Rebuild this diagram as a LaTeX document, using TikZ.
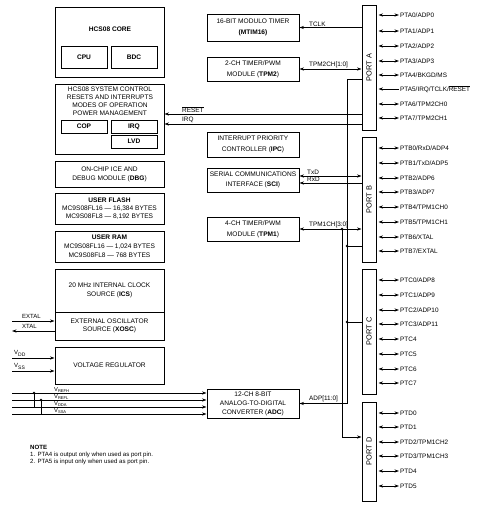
\documentclass[tikz,border=0pt]{standalone}
\usepackage{fontspec}
\setmainfont{Liberation Sans}
\usetikzlibrary{arrows.meta}
\newcommand\ovl[1]{$\overline{\mbox{#1}}$}
\newcommand\fs[2]{\fontsize{#1}{#2}\selectfont}
\begin{document}
\begin{tikzpicture}[x=1pt,y=-1pt,
  every node/.style={inner sep=0pt, font=\fs{6.6}{9}},
  blk/.style={draw, line width=1pt, align=center},
  lab/.style={anchor=west, font=\fs{6.4}{7}},
  pinlab/.style={anchor=west, inner sep=1pt, font=\fs{6.4}{7}},
  portlab/.style={rotate=90, font=\fs{7.4}{8}},
  wire/.style={line width=0.8pt},
  arr/.style={wire, -{Stealth[length=4.5pt,width=3.2pt]}},
  dblarr/.style={wire, {Stealth[length=4.5pt,width=3.2pt]}-{Stealth[length=4.5pt,width=3.2pt]}},
  dot/.style={circle, fill, minimum size=2.8pt}]
\useasboundingbox (0,0) rectangle (500,507);
\newcommand\mybox[7][]{\node[blk, minimum width={#5-#3}, minimum height={#6-#4}, #1] (#2) at ({(#3+#5)/2},{(#4+#6)/2}) {#7};}
% left column
\mybox{core}{55}{7}{164}{77}{}
\node (coret) at (110,29) {\textbf{HCS08 CORE}};
\mybox{cpu}{61}{46}{107}{68}{\textbf{CPU}}
\mybox{bdc}{111}{46}{157}{68}{\textbf{BDC}}
\mybox{sys}{55}{84}{164}{154}{}
\node[align=center, font=\fs{6.6}{8}] (syst) at (110,101) {HCS08 SYSTEM CONTROL\\RESETS AND INTERRUPTS\\MODES OF OPERATION\\POWER MANAGEMENT};
\mybox{cop}{61}{120}{107}{133}{\textbf{COP}}
\mybox{irq}{111}{120}{157}{133}{\textbf{IRQ}}
\mybox{lvd}{111}{135}{157}{148}{\textbf{LVD}}
\mybox{dbg}{55}{161}{164}{187}{ON-CHIP ICE AND\\DEBUG MODULE (\textbf{DBG})}
\mybox[font=\fs{6.6}{8}]{flash}{55}{193}{164}{224}{\textbf{USER FLASH}\\MC9S08FL16 --- 16,384 BYTES\\MC9S08FL8 --- 8,192 BYTES}
\mybox[font=\fs{6.6}{8.8}]{ram}{55}{231}{164}{262}{\textbf{USER RAM}\\MC9S08FL16 --- 1,024 BYTES\\MC9S08FL8 --- 768 BYTES}
\mybox{ics}{55}{269}{164}{312}{20 MHz INTERNAL CLOCK\\SOURCE (\textbf{ICS})}
\mybox[font=\fs{6.6}{8}]{xosc}{55}{312}{164}{340}{EXTERNAL OSCILLATOR\\SOURCE (\textbf{XOSC})}
\mybox{vreg}{55}{347}{164}{384}{VOLTAGE REGULATOR}
% middle column
\mybox[font=\fs{6.6}{11}]{mtim}{207}{14}{299}{41}{16-BIT MODULO TIMER\\\textbf{(MTIM16)}}
\mybox[font=\fs{6.6}{11}]{tpm2}{207}{57}{299}{81}{2-CH TIMER/PWM\\MODULE (\textbf{TPM2})}
\mybox[font=\fs{6.6}{11}]{ipc}{207}{132}{299}{157}{INTERRUPT PRIORITY\\CONTROLLER (\textbf{IPC})}
\mybox[font=\fs{6.6}{10}]{sci}{207}{168}{299}{192}{SERIAL COMMUNICATIONS\\INTERFACE (\textbf{SCI})}
\mybox[font=\fs{6.6}{11}]{tpm1}{207}{217}{299}{241}{4-CH TIMER/PWM\\MODULE (\textbf{TPM1})}
\mybox{adc}{207}{389}{299}{418}{12-CH 8-BIT\\ANALOG-TO-DIGITAL\\CONVERTER (\textbf{ADC})}
% ports
\mybox{portA}{362}{5}{376}{130}{}
\mybox{portB}{362}{137}{376}{262}{}
\mybox{portC}{362}{269}{376}{394}{}
\mybox{portD}{362}{402}{376}{501}{}
\node[portlab] (plA) at (portA) {PORT A};
\node[portlab] (plB) at (portB) {PORT B};
\node[portlab] (plC) at (portC) {PORT C};
\node[portlab] (plD) at (portD) {PORT D};
% pins
\newcommand\mypin[4]{\node[pinlab] (#1) at (399,#3) {#4};
  \draw[dblarr] ([xshift=2pt]#2.east |- #1.west) -- (#1.west);}
\mypin{pa0}{portA}{15}{PTA0/ADP0}
\mypin{pa1}{portA}{31}{PTA1/ADP1}
\mypin{pa2}{portA}{46}{PTA2/ADP2}
\mypin{pa3}{portA}{61}{PTA3/ADP3}
\mypin{pa4}{portA}{75}{PTA4/BKGD/MS}
\node[pinlab] (pa5) at (399,89) {PTA5/IRQ/TCLK/\ovl{RESET}};
\draw[arr] (pa5.west) -- ([xshift=2pt]portA.east |- pa5.west);
\mypin{pa6}{portA}{104}{PTA6/TPM2CH0}
\mypin{pa7}{portA}{118}{PTA7/TPM2CH1}
\mypin{pb0}{portB}{148}{PTB0/RxD/ADP4}
\mypin{pb1}{portB}{163}{PTB1/TxD/ADP5}
\mypin{pb2}{portB}{178}{PTB2/ADP6}
\mypin{pb3}{portB}{192}{PTB3/ADP7}
\mypin{pb4}{portB}{207}{PTB4/TPM1CH0}
\mypin{pb5}{portB}{222}{PTB5/TPM1CH1}
\mypin{pb6}{portB}{237}{PTB6/XTAL}
\mypin{pb7}{portB}{251}{PTB7/EXTAL}
\mypin{pc0}{portC}{280}{PTC0/ADP8}
\mypin{pc1}{portC}{295}{PTC1/ADP9}
\mypin{pc2}{portC}{310}{PTC2/ADP10}
\mypin{pc3}{portC}{324}{PTC3/ADP11}
\mypin{pc4}{portC}{339}{PTC4}
\mypin{pc5}{portC}{354}{PTC5}
\mypin{pc6}{portC}{369}{PTC6}
\mypin{pc7}{portC}{383}{PTC7}
\mypin{pd0}{portD}{413}{PTD0}
\mypin{pd1}{portD}{427}{PTD1}
\mypin{pd2}{portD}{442}{PTD2/TPM1CH2}
\mypin{pd3}{portD}{456}{PTD3/TPM1CH3}
\mypin{pd4}{portD}{471}{PTD4}
\mypin{pd5}{portD}{486}{PTD5}
% internal wiring
\coordinate (yRST) at (0,114);
\coordinate (yIRQ) at (0,124);
\coordinate (yTXD) at (0,176);
\coordinate (yRXD) at (0,183);
\draw[arr] (portA.west |- mtim.east) -- (mtim.east);
\node[lab] (ltclk) at (309,24) {TCLK};
\draw[dblarr] (tpm2.east) -- (tpm2.east -| portA.west);
\node[lab] (ltpm2) at (309,65) {TPM2CH[1:0]};
\draw[arr] (portA.west |- yRST) -- (sys.east |- yRST);
\node[lab] (lrst) at (182,109.5) {\ovl{RESET}};
\draw[arr] (portA.west |- yIRQ) -- (sys.east |- yIRQ);
\node[lab] (lirq) at (182,119.5) {IRQ};
\draw[dblarr] (sci.east |- yTXD) -- (portB.west |- yTXD);
\node[lab] (ltxd) at (307,172.5) {TxD};
\draw[arr] (portB.west |- yRXD) -- (sci.east |- yRXD);
\node[lab] (lrxd) at (307,179.5) {RxD};
\draw[dblarr] (tpm1.east) -- (tpm1.east -| portB.west);
\node[lab] (ltpm1) at (309,225) {TPM1CH[3:0]};
\node[dot] (jt) at (342,229) {};
\coordinate (tD) at (342,437);
\draw[arr] (jt.center) -- (tD) -- (tD -| portD.west);
\coordinate (aTop) at (347,79);
\draw[arr] (aTop -| portA.west) -- (aTop) -- (aTop |- adc.east) -- (adc.east);
\node[lab] (ladp) at (309,399) {ADP[11:0]};
\node[dot] (jb) at (347,246) {};
\draw[wire] (jb.center) -- (jb.center -| portB.west);
\node[dot] (jc) at (347,322) {};
\draw[wire] (jc.center) -- (jc.center -| portC.west);
% left side signals
\coordinate (L) at (12,0);
\coordinate (yEX) at (0,321);
\coordinate (yXT) at (0,331);
\coordinate (yVDD) at (0,358);
\coordinate (yVSS) at (0,371);
\draw[arr] (L |- yEX) -- (xosc.west |- yEX);
\node[lab, font=\fs{6}{7}] (lex) at (22,316) {EXTAL};
\draw[arr] (xosc.west |- yXT) -- (L |- yXT);
\node[lab, font=\fs{6}{7}] (lxt) at (22,326) {XTAL};
\draw[arr] (L |- yVDD) -- (vreg.west |- yVDD);
\node[lab, font=\fs{6}{7}] (lvdd) at (14,353.5) {V\textsubscript{DD}};
\draw[arr] (L |- yVSS) -- (vreg.west |- yVSS);
\node[lab, font=\fs{6}{7}] (lvss) at (14,366.5) {V\textsubscript{SS}};
\coordinate (y1) at (0,393);
\coordinate (y2) at (0,400);
\coordinate (y3) at (0,407);
\coordinate (y4) at (0,414);
\draw[arr] (L |- y1) -- (adc.west |- y1);
\draw[arr] (L |- y2) -- (adc.west |- y2);
\draw[arr] (L |- y3) -- (adc.west |- y3);
\draw[arr] (L |- y4) -- (adc.west |- y4);
\node[lab, font=\fs{5.8}{6}] (lv1) at (54,389.8) {V\textsubscript{REFH}};
\node[lab, font=\fs{5.8}{6}] (lv2) at (54,396.8) {V\textsubscript{REFL}};
\node[lab, font=\fs{5.8}{6}] (lv3) at (54,403.8) {V\textsubscript{DDA}};
\node[lab, font=\fs{5.8}{6}] (lv4) at (54,410.8) {V\textsubscript{SSA}};
\node[dot] (d1) at (34,393) {};
\node[dot] (d2) at (41,400) {};
\draw[wire] (d1.center) -- (d1.center |- y3);
\draw[wire] (d2.center) -- (d2.center |- y4);
% note
\node[anchor=north west, align=left, font=\fs{6.1}{7}] (note) at (30,445.5) {\textbf{NOTE}\\1. PTA4 is output only when used as port pin.\\2. PTA5 is input only when used as port pin.};
\end{tikzpicture}
\end{document}
